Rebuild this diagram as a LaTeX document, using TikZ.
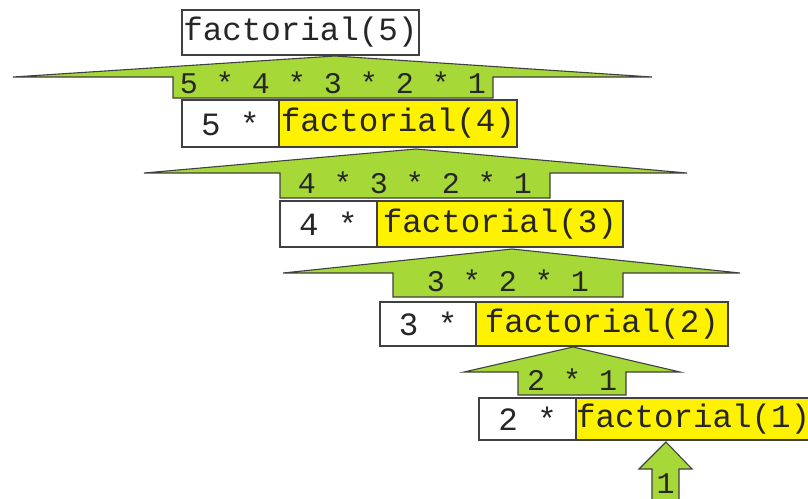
\documentclass[tikz,border=0pt]{standalone}
\usepackage{fontspec}
\setmonofont{Liberation Mono}
\usepackage{xcolor}
\usepackage{tikz}
\usetikzlibrary{positioning}

\definecolor{resgreen}{RGB}{166,216,56}
\definecolor{callyellow}{RGB}{255,242,0}
\definecolor{edgegray}{RGB}{64,64,64}

\begin{document}
\begin{tikzpicture}[
        x=1pt, y=-1pt,
        cell/.style   ={draw=edgegray, line width=1.1pt, inner sep=0pt, outer sep=0pt,
                        anchor=north west, text=black!85,
                        font=\ttfamily\fontsize{32.5}{34}\selectfont},
        mulcell/.style={cell, fill=white},
        callcell/.style={cell, fill=callyellow},
        resarrow/.style={draw=edgegray, line width=1.1pt, fill=resgreen, line join=miter},
        restext/.style={inner sep=0pt, text=black!85,
                        font=\ttfamily\fontsize{30}{32}\selectfont}
    ]
        \useasboundingbox (0,0) rectangle (808,498);
        \clip (0,0) rectangle (808,498);
        % returned products: tip l/r, wing y, shaft l/r, bottom, apex x/y, text base, text
        \foreach \lt/\rt/\wy/\shl/\shr/\bt/\ax/\ay/\tb/\txt [count=\i] in {%
            13/652/77/173/493/98/335/56/93/{5 * 4 * 3 * 2 * 1},
            144/687/173/280/550/198/416/149/193/{4 * 3 * 2 * 1},
            283/740/273/393/623/297/512/249/291/{3 * 2 * 1},
            464/680/372/518/626/395/573/347/390/{2 * 1},
            639/692/469/652/679/510/666/442/493/{1}%
        }{
            \draw[resarrow] (\lt,\wy) -- (\ax,\ay) -- (\rt,\wy) -- (\shr,\wy)
                -- (\shr,\bt) -- (\shl,\bt) -- (\shl,\wy) -- cycle;
            \node[restext, anchor=base] (res\i) at ({(\shl+\shr)/2},\tb) {\txt};
        }
        % first call
        \node[mulcell, minimum width=237pt, minimum height=45pt] (fact5) at (182,10)
              {factorial(5)};
        % recursive calls: n * factorial(n-1)
        \foreach \n/\lft/\tp/\wa/\wb/\hh in {%
            5/182/100/97/238/47, 4/280/201/97/246/46,
            3/380/302/96/252/44, 2/479/398/97/234/42%
        }{
            \pgfmathtruncatemacro{\m}{\n-1}
            \node[mulcell, minimum width=\wa pt, minimum height=\hh pt]
                  (mul\n) at (\lft,\tp) {\n\ *};
            \node[callcell, minimum width=\wb pt, minimum height=\hh pt]
                  (call\m) at (mul\n.north east) {factorial(\m)};
        }
    \end{tikzpicture}
\end{document}
